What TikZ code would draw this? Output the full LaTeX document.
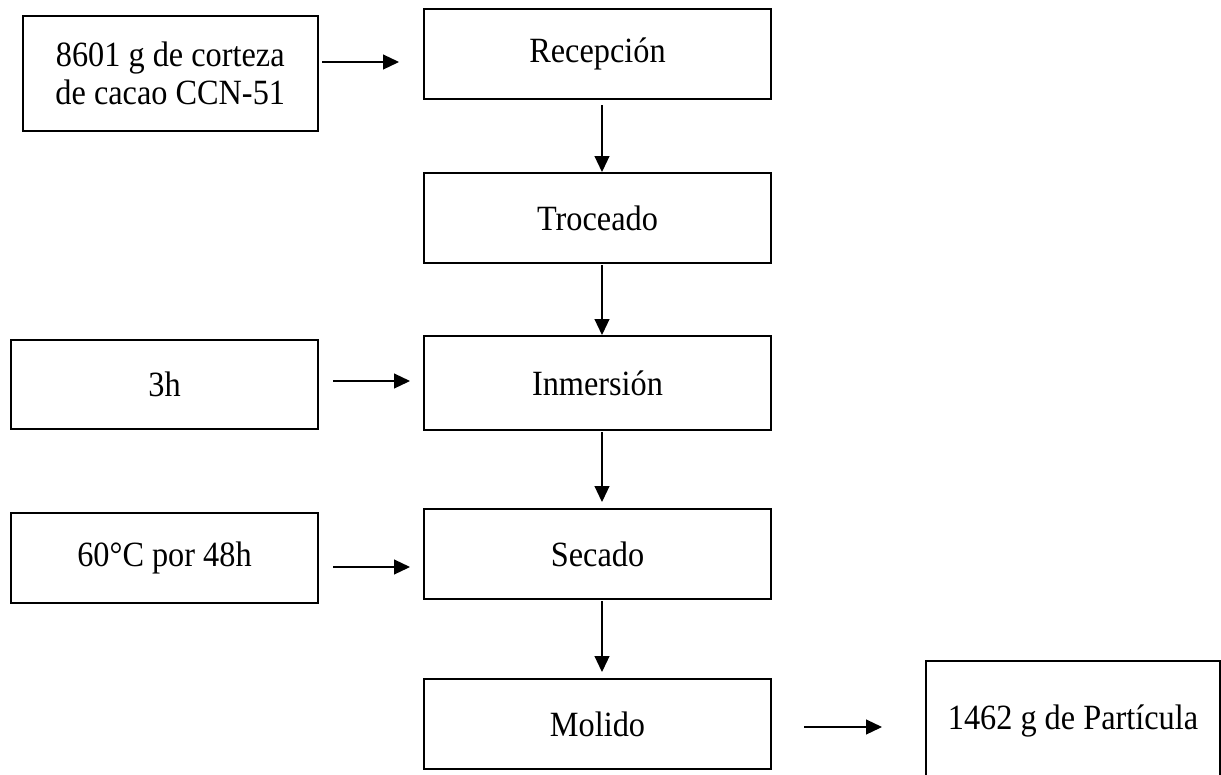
\documentclass[tikz,border=0pt]{standalone}
\usepackage{fontspec}
\setmainfont{Liberation Serif}[FakeStretch=0.91]
\usetikzlibrary{arrows.meta}
\begin{document}
\begin{tikzpicture}[x=1pt,y=-1pt,
  box/.style={draw=black,line width=2pt,inner sep=0pt,align=center,
    font=\fontsize{35.5}{38}\selectfont},
  arr/.style={line width=1.2pt,-{Triangle[length=16pt,width=15pt]}}]
\useasboundingbox (0,0) rectangle (1221,774);
\node[box,minimum width=295.5pt,minimum height=114.5pt] (in1) at (170.25,73.25) {8601 g de corteza\\de cacao CCN-51};
\node[box,minimum width=347pt,minimum height=90pt] (r) at (597.5,54) {Recepción};
\node[box,minimum width=347pt,minimum height=90pt] (t) at (597.5,218) {Troceado};
\node[box,minimum width=347pt,minimum height=94pt] (i) at (597.5,383) {Inmersión};
\node[box,minimum width=347pt,minimum height=90pt] (s) at (597.5,554) {Secado};
\node[box,minimum width=347pt,minimum height=90pt] (m) at (597.5,724) {Molido};
\node[box,minimum width=307pt,minimum height=89pt] (h3) at (164.5,384.5) {3h};
\node[box,minimum width=307pt,minimum height=90pt] (c60) at (164.5,558) {60°C por 48h};
\node[box,minimum width=294pt,minimum height=119pt] (p) at (1073,720.5) {1462 g de Partícula};
% horizontal arrows
\draw[arr] ([xshift=3pt,yshift=11.25pt]in1.east) -- ([xshift=-24pt,yshift=-8pt]r.west);
\draw[arr] ([xshift=14pt,yshift=3.5pt]h3.east) -- ([xshift=-13pt,yshift=2pt]i.west);
\draw[arr] ([xshift=14pt,yshift=-9pt]c60.east) -- ([xshift=-13pt,yshift=-13pt]s.west);
\draw[arr] ([xshift=32pt,yshift=-3pt]m.east) -- ([xshift=-43pt,yshift=-6.5pt]p.west);
% vertical arrows
\draw[arr] ([xshift=4.5pt,yshift=-5pt]r.south) -- ([xshift=4.5pt]t.north);
\draw[arr] ([xshift=4.5pt,yshift=-1pt]t.south) -- ([xshift=4.5pt]i.north);
\draw[arr] ([xshift=4.5pt,yshift=-1pt]i.south) -- ([xshift=4.5pt,yshift=6pt]s.north);
\draw[arr] ([xshift=4.5pt,yshift=-1pt]s.south) -- ([xshift=4.5pt,yshift=6pt]m.north);
\end{tikzpicture}
\end{document}
